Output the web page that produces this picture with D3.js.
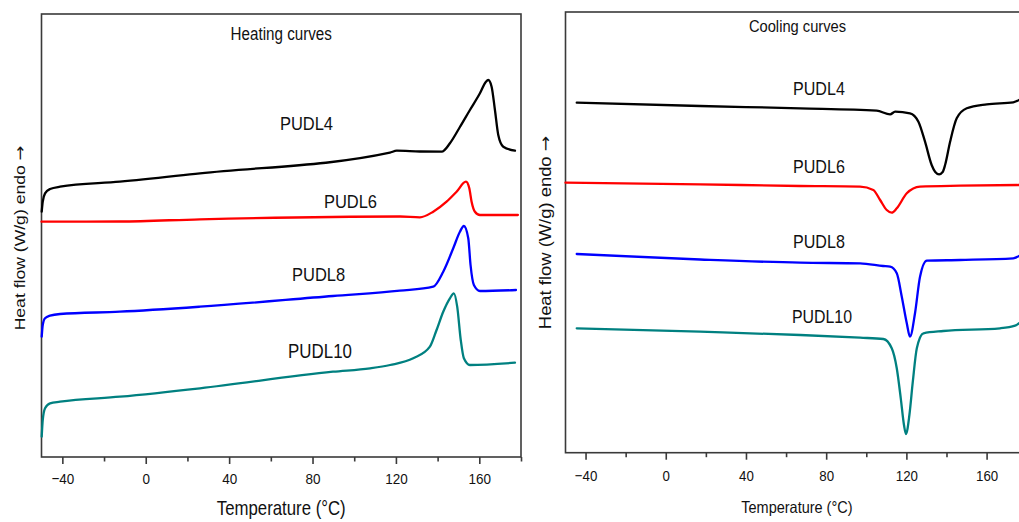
<!DOCTYPE html>
<html>
<head>
<meta charset="utf-8">
<script src="https://cdn.jsdelivr.net/npm/d3@7/dist/d3.min.js"></script>
<style>
  html, body { margin: 0; padding: 0; background: #fff; }
  svg { display: block; }
  text { font-family: "Liberation Sans", Arial, Helvetica, sans-serif; fill: #111; }
</style>
</head>
<body>
<svg id="chart" width="1019" height="522"></svg>
<script>
// DSC thermograms: temperature (°C) vs heat flow (arbitrary offset units, endo up)

const seriesNames = ["PUDL4", "PUDL6", "PUDL8", "PUDL10"];
const seriesColors = ["#000000", "#ff0000", "#0000ff", "#008080"];

const majorTicks = [-40, 0, 40, 80, 120, 160];
const minorTicks = [-20, 20, 60, 100, 140, 180];

// Heating scans [T, heat flow]
const heatPUDL4 = [
  [-49.9, 24.53], [-49.4, 25.53], [-48.3, 26.37], [-45.9, 26.8], [-41.1, 27.03],
  [-12.4, 27.53], [26.0, 28.37], [117.1, 30.43], [120.4, 30.63], [131.5, 30.55],
  [142.0, 30.53], [145.9, 31.37], [150.7, 33.0], [155.5, 34.7], [160.3, 36.37],
  [163.1, 37.5], [164.3, 37.7], [165.9, 37.03], [167.5, 34.7], [169.1, 32.2],
  [171.5, 31.03], [177.1, 30.63]
];
const heatPUDL6 = [
  [-50.0, 23.53], [-12.4, 23.55], [26.0, 23.77], [122.0, 24.05], [131.5, 23.97],
  [137.9, 24.53], [144.3, 25.53], [149.1, 26.53], [153.6, 27.53], [155.2, 26.87],
  [156.3, 25.53], [157.9, 24.53], [160.3, 24.2], [178.5, 24.2]
];
const heatPUDL8 = [
  [-49.9, 12.03], [-49.4, 13.2], [-48.3, 13.87], [-45.9, 14.13], [-41.1, 14.3],
  [-12.4, 14.53], [26.0, 15.03], [89.8, 16.1], [121.9, 16.63], [137.9, 17.03],
  [142.7, 18.53], [147.5, 20.87], [150.7, 22.53], [152.6, 23.1], [154.7, 21.87],
  [155.8, 19.2], [157.4, 17.2], [160.3, 16.6], [177.6, 16.7]
];
const heatPUDL10 = [
  [-49.9, 2.03], [-49.4, 3.7], [-48.3, 4.87], [-45.9, 5.37], [-41.1, 5.53],
  [-12.4, 6.03], [26.0, 6.87], [89.8, 8.53], [107.6, 8.87], [117.2, 9.2],
  [128.3, 9.87], [136.3, 11.03], [139.5, 12.7], [142.7, 14.53], [145.9, 15.87],
  [147.8, 16.37], [149.4, 15.03], [151.1, 11.7], [152.6, 9.87], [155.5, 9.2],
  [177.1, 9.43]
];

// Cooling scans [T, heat flow]
const coolPUDL4 = [
  [-44.4, 35.0], [17.1, 34.67], [67.0, 34.44], [105.2, 34.2], [111.9, 33.84],
  [114.4, 34.1], [121.8, 33.94], [126.0, 33.1], [129.3, 31.1], [132.6, 28.77],
  [134.4, 28.07], [136.3, 27.84], [138.1, 28.07], [139.3, 28.77], [141.8, 31.1],
  [145.1, 33.44], [150.1, 34.44], [160.1, 34.84], [173.3, 35.04], [176.2, 35.27]
];
const coolPUDL6 = [
  [-50.0, 27.0], [17.1, 26.84], [67.0, 26.67], [96.9, 26.6], [103.5, 26.27],
  [106.9, 25.27], [110.2, 24.27], [112.7, 24.0], [115.2, 24.44], [120.2, 25.94],
  [126.8, 26.6], [146.8, 26.7], [176.2, 26.77]
];
const coolPUDL8 = [
  [-44.4, 19.87], [17.1, 19.32], [67.0, 19.0], [96.9, 18.94], [108.4, 18.67],
  [111.9, 18.6], [115.2, 17.94], [117.7, 15.6], [120.2, 12.94], [121.8, 11.6],
  [124.3, 13.94], [126.8, 17.6], [130.2, 19.2], [146.8, 19.27], [173.3, 19.44],
  [176.2, 19.67]
];
const coolPUDL10 = [
  [-44.4, 12.44], [17.1, 12.1], [67.0, 11.77], [96.9, 11.5], [108.5, 11.37],
  [112.7, 10.44], [115.2, 8.44], [117.2, 5.44], [118.8, 2.77], [119.8, 1.87],
  [121.5, 3.77], [123.2, 7.1], [125.2, 10.44], [128.5, 11.94], [138.4, 12.17],
  [166.7, 12.44], [174.2, 12.7], [176.2, 12.94]
];

const heatingSeries = [heatPUDL4, heatPUDL6, heatPUDL8, heatPUDL10];
const coolingSeries = [coolPUDL4, coolPUDL6, coolPUDL8, coolPUDL10];

// Curve label anchors [T, heat flow]
const heatLabelAt = [[77.1, 32.7], [98.2, 24.9], [82.9, 17.63], [83.6, 9.9]];
const coolLabelAt = [[76.4, 35.77], [76.4, 28.02], [76.4, 20.47], [77.9, 12.97]];

// all lettering is drawn slightly tall (vertical stretch)
const STRETCH = 1.15;

const svg = d3.select("#chart");

function tallText(parent, px, py, size, str, anchor) {
  return parent.append("text")
    .attr("transform", `translate(${px},${py}) scale(1,${STRETCH})`)
    .attr("text-anchor", anchor || "middle")
    .style("font-size", size + "px")
    .text(str);
}

const panels = [
  {
    title: "Heating curves", series: heatingSeries, labels: heatLabelAt,
    left: 41.5, top: 14, width: 479.5, height: 443,
    yDomain: [0, 44.3], titleY: 40, tickPad: 7, tickFont: 13.5,
    labelFonts: [16.5, 16.5, 16.5, 16.9], titleFont: 15.2, axisTitleFont: 16.8, axisTitleY: 515,
    titleT: 65, axisTitleT: 65,
    yTitleX: 25, yTitleCenter: 238, yTitleFont: 15.3
  },
  {
    title: "Cooling curves", series: coolingSeries, labels: coolLabelAt,
    left: 565.5, top: 12, width: 461.2, height: 440.7,
    yDomain: [0, 44.07], titleY: 31.5, tickPad: 8, tickFont: 13.3,
    labelFonts: [16.1, 16.1, 16.1, 15.9], titleFont: 14.7, axisTitleFont: 14.5, axisTitleY: 513,
    titleT: 65.7, axisTitleT: 65.4,
    yTitleX: 551, yTitleCenter: 232.5, yTitleFont: 16
  }
];

panels.forEach((p) => {
  const g = svg.append("g").attr("transform", `translate(${p.left},${p.top})`);

  const x = d3.scaleLinear().domain([-50, 180]).range([0, p.width]);
  const y = d3.scaleLinear().domain(p.yDomain).range([p.height, 0]);

  // frame
  g.append("rect")
    .attr("x", 0).attr("y", 0)
    .attr("width", p.width).attr("height", p.height)
    .attr("fill", "none").attr("stroke", "#3a3a3a").attr("stroke-width", 1.6);

  // bottom axis: major ticks with labels, minor ticks without
  const major = g.append("g").attr("transform", `translate(0,${p.height})`)
    .call(d3.axisBottom(x).tickValues(majorTicks).tickSize(7).tickPadding(p.tickPad)
      .tickFormat(d3.format("d")));
  major.select(".domain").remove();
  major.selectAll(".tick line").attr("stroke", "#3a3a3a").attr("stroke-width", 1.6);
  major.selectAll(".tick text")
    .attr("transform", `scale(1,${STRETCH})`)
    .style("font-family", '"Liberation Sans", Arial, sans-serif')
    .style("font-size", p.tickFont + "px").attr("fill", "#111");

  const minor = g.append("g").attr("transform", `translate(0,${p.height})`)
    .call(d3.axisBottom(x).tickValues(minorTicks).tickSize(4.5).tickFormat(""));
  minor.select(".domain").remove();
  minor.selectAll(".tick line").attr("stroke", "#3a3a3a").attr("stroke-width", 1.6);

  // curves
  const line = d3.line()
    .x(d => x(d[0]))
    .y(d => y(d[1]))
    .curve(d3.curveMonotoneX);

  p.series.forEach((data, i) => {
    g.append("path")
      .datum(data)
      .attr("d", line)
      .attr("fill", "none")
      .attr("stroke", seriesColors[i])
      .attr("stroke-width", 2.3)
      .attr("stroke-linejoin", "round")
      .attr("stroke-linecap", "round");
  });

  // curve labels
  p.labels.forEach((a, i) => {
    tallText(g, x(a[0]), y(a[1]), p.labelFonts[i], seriesNames[i]);
  });

  // panel title
  tallText(g, x(p.titleT), p.titleY - p.top, p.titleFont, p.title);

  // x axis title
  tallText(g, x(p.axisTitleT), p.axisTitleY - p.top, p.axisTitleFont, "Temperature (°C)");

  // y axis title (arrow from DejaVu for a longer shaft)
  const yt = svg.append("text")
    .attr("transform", `translate(${p.yTitleX},${p.yTitleCenter}) scale(1,${STRETCH}) rotate(-90)`)
    .attr("text-anchor", "middle")
    .style("font-size", p.yTitleFont + "px");
  yt.append("tspan").text("Heat flow (W/g) endo ");
  yt.append("tspan").style("font-family", '"DejaVu Sans", sans-serif').text("\u2192");
});
</script>
</body>
</html>
